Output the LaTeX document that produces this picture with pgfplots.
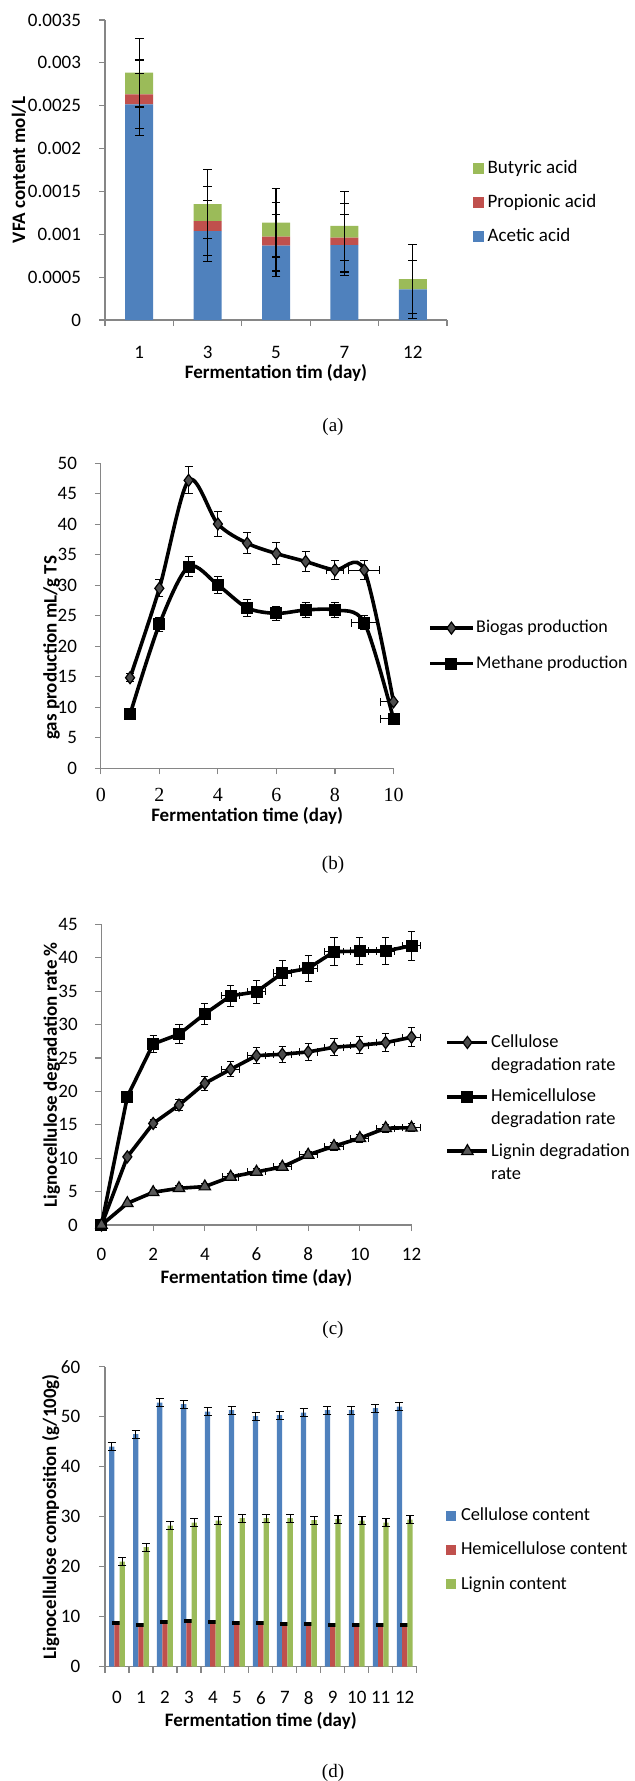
\documentclass[border=0pt]{standalone}
\usepackage{pgfplots}
\pgfplotsset{compat=1.18}
\usepackage{fontspec}
\setmainfont{Carlito}
\newfontfamily\capfont{Liberation Serif}
\definecolor{cblue}{HTML}{4F81BD}
\definecolor{cred}{HTML}{C0504D}
\definecolor{cgreen}{HTML}{9BBB59}
\definecolor{axgray}{HTML}{868686}
\newcommand{\fs}{\fontsize{9.5}{11.5}\selectfont}
\pgfplotsset{
  excel/.style={
    scale only axis,
    anchor=south west,
    axis lines*=left,
    axis line style={draw=axgray, line width=0.6pt, -},
    tick style={draw=axgray, line width=0.6pt},
    tick align=outside,
    major tick length=3pt,
    font=\fs,
    /pgf/number format/assume math mode=true,
    scaled y ticks=false,
    scaled x ticks=false,
    yticklabel style={anchor=east, inner sep=0pt},
    xticklabel style={anchor=center, inner sep=0pt},
    legend style={draw=none, fill=none, font=\fs, inner sep=0pt, outer sep=0pt, anchor=west},
    legend cell align=left,
  },
}
\begin{document}
\begin{tikzpicture}
\useasboundingbox (0,0) rectangle (317pt,-890.5pt);

% ---------------- (a) ----------------
\begin{axis}[excel,
  at={(52.5pt,-160pt)}, width=171pt, height=150pt,
  ybar stacked, bar width=14pt,
  xmin=-0.5, xmax=4.5, ymin=0, ymax=0.0035,
  xtick={-0.5,0.5,1.5,2.5,3.5,4.5}, x tick label as interval,
  xticklabels={1,3,5,7,12},
  ytick={0,0.0005,0.001,0.0015,0.002,0.0025,0.003,0.0035},
  yticklabels={0,0.0005,0.001,0.0015,0.002,0.0025,0.003,0.0035},
  xticklabel style={yshift=-13.3pt},
  yticklabel style={xshift=-8.85pt},
  every axis x label/.style={at={(axis description cs:0.5,-0.178)}, anchor=center, font=\fs\bfseries},
  every axis y label/.style={at={(axis description cs:-0.2515,0.5)}, rotate=90, anchor=center, font=\fs\bfseries},
  xlabel={Fermentation tim (day)}, ylabel={VFA content mol/L},
  legend style={at={(axis description cs:1.075,0.391)}, row sep=7.8pt, column sep=2pt,
    nodes={inner sep=0pt, text height=7pt, text depth=2.2pt}},
  reverse legend,
  legend image code/.code={\fill[#1] (0pt,-2.75pt) rectangle (5.5pt,2.75pt);},
]
\addplot[fill=cblue, draw=none] coordinates {(0,0.002517) (1,0.001038) (2,0.000867) (3,0.000875) (4,0.000358)};
\addlegendentry{Acetic acid}
\addplot[fill=cred, draw=none] coordinates {(0,0.000116) (1,0.000117) (2,0.000105) (3,0.000085) (4,0)};
\addlegendentry{Propionic acid}
\addplot[fill=cgreen, draw=none] coordinates {(0,0.000253) (1,0.000198) (2,0.000163) (3,0.000137) (4,0.00012)};
\addlegendentry{Butyric acid}
\end{axis}
\begin{axis}[at={(52.5pt,-160pt)}, anchor=south west, scale only axis, width=171pt, height=150pt,
  xmin=-0.5, xmax=4.5, ymin=0, ymax=0.0035, hide axis, clip=false]
\addplot[draw=none, mark=none, forget plot, error bars/.cd, y dir=both, y explicit,
  error mark=-,
  error bar style={draw=black, line width=0.6pt},
  error mark options={rotate=90, draw=black, mark size=2.2pt, line width=0.6pt}]
  coordinates {
  (0,0.002517) +- (0,0.00036) (1,0.001038) +- (0,0.00036) (2,0.000867) +- (0,0.00036) (3,0.000875) +- (0,0.00036) (4,0.000358) +- (0,0.00034)
  (0,0.002633) +- (0,0.0004) (1,0.001155) +- (0,0.0004) (2,0.000972) +- (0,0.0004) (3,0.00096) +- (0,0.0004)
  (0,0.002886) +- (0,0.0004) (1,0.001353) +- (0,0.0004) (2,0.001135) +- (0,0.0004) (3,0.001097) +- (0,0.0004) (4,0.000478) +- (0,0.0004)
  };
\end{axis}
\node[font=\capfont\fontsize{9.5}{11}\selectfont] at (166.5pt,-213.5pt) {(a)};

% ---------------- (b) ----------------
\begin{axis}[excel,
  at={(50.4pt,-384.15pt)}, width=146.35pt, height=152.5pt,
  xmin=0, xmax=10, ymin=0, ymax=50,
  xtick={0,2,4,6,8,10}, ytick={0,5,10,15,20,25,30,35,40,45,50},
  xticklabel style={font=\capfont\fontsize{10}{12}\selectfont, yshift=-10.5pt},
  yticklabel style={xshift=-8.75pt},
  clip=false,
  every axis x label/.style={at={(axis description cs:0.5,-0.156)}, anchor=center, font=\fs\bfseries},
  every axis y label/.style={at={(axis description cs:-0.168,0.395)}, rotate=90, anchor=center, font=\fs\bfseries},
  xlabel={Fermentation time (day)}, ylabel={gas production mL/g TS},
  legend style={at={(axis description cs:1.12,0.4016)}, row sep=8.5pt, column sep=1pt,
    font=\fontsize{9}{11}\selectfont,
    nodes={inner sep=0pt, text height=7pt, text depth=2.2pt}},
  legend image code/.code={\draw[mark repeat=2, mark phase=2, #1] plot coordinates {(0pt,0pt) (10.5pt,0pt) (21pt,0pt)};},
]
\addplot[black, line width=1.8pt, smooth, tension=0.5, mark=diamond*,
  mark options={fill=black!70, draw=black, line width=0.6pt, mark size=3pt, solid},
  error bars/.cd, x dir=both, y dir=both, x explicit, y explicit,
  error bar style={line width=0.5pt, black},
  error mark options={rotate=90, mark size=2pt, line width=0.5pt, black}]
  coordinates {
  (1,14.85) +- (0,0.7)
  (2,29.5) +- (0,1.4)
  (3,47.2) +- (0,2.2)
  (4,40.05) +- (0,2.0)
  (5,36.9) +- (0,1.7)
  (6,35.2) +- (0,1.8)
  (7,33.9) +- (0,1.7)
  (8,32.5) +- (0.3,1.6)
  (9,32.5) +- (0.53,1.5)
  (10,10.9) += (0,0) -= (0.46,0)
  };
\addlegendentry{Biogas production}
\addplot[black, line width=1.8pt, smooth, tension=0.5, mark=square*,
  mark options={fill=black, draw=black, line width=0.6pt, mark size=2.7pt, solid},
  error bars/.cd, x dir=both, y dir=both, x explicit, y explicit,
  error bar style={line width=0.5pt, black},
  error mark options={rotate=90, mark size=2pt, line width=0.5pt, black}]
  coordinates {
  (1,8.85) +- (0,0.4)
  (2,23.6) +- (0,1.2)
  (3,33.05) +- (0,1.6)
  (4,30.05) +- (0,1.4)
  (5,26.3) +- (0,1.4)
  (6,25.4) +- (0,1.2)
  (7,25.95) +- (0,1.3)
  (8,25.95) +- (0,1.3)
  (9,23.9) +- (0.44,1.2)
  (10,8.1) += (0,0) -= (0.46,0)
  };
\addlegendentry{Methane production}
\end{axis}
\node[font=\capfont\fontsize{9.5}{11}\selectfont] at (166.5pt,-432.5pt) {(b)};

% ---------------- (c) ----------------
\begin{axis}[excel,
  at={(50.75pt,-612.5pt)}, width=155pt, height=150.35pt,
  xmin=0, xmax=12, ymin=0, ymax=45,
  xtick={0,2,4,6,8,10,12}, ytick={0,5,10,15,20,25,30,35,40,45},
  xticklabel style={yshift=-11.65pt},
  yticklabel style={xshift=-8.7pt},
  clip=false,
  every axis x label/.style={at={(axis description cs:0.5,-0.177)}, anchor=center, font=\fs\bfseries},
  every axis y label/.style={at={(axis description cs:-0.16,0.5)}, rotate=90, anchor=center, font=\fs\bfseries},
  xlabel={Fermentation time (day)}, ylabel={Lignocellulose degradation rate \%},
  legend style={at={(axis description cs:1.11,0.388)}, row sep=7.8pt, column sep=1pt,
    font=\fontsize{9.2}{11.5}\selectfont,
    nodes={inner sep=0pt, align=left}},
  legend image code/.code={\draw[mark repeat=2, mark phase=2, #1] plot coordinates {(0pt,5.75pt) (10pt,5.75pt) (20pt,5.75pt)};},
]
\addplot[black, line width=1.8pt, mark=diamond*,
  mark options={fill=black!70, draw=black, line width=0.6pt, mark size=3pt, solid},
  error bars/.cd, x dir=both, y dir=both, x explicit, y explicit,
  error bar style={line width=0.5pt, black},
  error mark options={rotate=90, mark size=1.8pt, line width=0.5pt, black}]
  coordinates {
  (0,0) +- (0,0)
  (1,10.2) +- (0,0.3)
  (2,15.2) +- (0,0.6)
  (3,17.95) +- (0,0.8)
  (4,21.2) +- (0,1.0)
  (5,23.3) +- (0.35,1.1)
  (6,25.35) +- (0.35,1.2)
  (7,25.55) +- (0.35,1.2)
  (8,25.9) +- (0.35,1.3)
  (9,26.6) +- (0.35,1.3)
  (10,26.9) +- (0.35,1.3)
  (11,27.3) +- (0.35,1.4)
  (12,28.1) +- (0.35,1.4)
  };
\addlegendentry{Cellulose\\degradation rate}
\addplot[black, line width=1.8pt, mark=square*,
  mark options={fill=black, draw=black, line width=0.6pt, mark size=2.7pt, solid},
  error bars/.cd, x dir=both, y dir=both, x explicit, y explicit,
  error bar style={line width=0.5pt, black},
  error mark options={rotate=90, mark size=1.8pt, line width=0.5pt, black}]
  coordinates {
  (0,0) +- (0,0)
  (1,19.2) +- (0,0.5)
  (2,27.1) +- (0,1.3)
  (3,28.55) +- (0,1.4)
  (4,31.6) +- (0,1.6)
  (5,34.3) +- (0.35,1.6)
  (6,34.9) +- (0.35,1.7)
  (7,37.7) +- (0.35,1.9)
  (8,38.4) +- (0.35,1.9)
  (9,40.9) +- (0.35,2.1)
  (10,41.0) +- (0.35,2.05)
  (11,41.0) +- (0.35,2.0)
  (12,41.8) +- (0.35,2.15)
  };
\addlegendentry{Hemicellulose\\degradation rate}
\addplot[black, line width=1.8pt, mark=triangle*,
  mark options={fill=black!65, draw=black, line width=0.6pt, mark size=3.3pt, solid},
  error bars/.cd, x dir=both, y dir=both, x explicit, y explicit,
  error bar style={line width=0.5pt, black},
  error mark options={rotate=90, mark size=1.8pt, line width=0.5pt, black}]
  coordinates {
  (0,0) +- (0,0)
  (1,3.25) +- (0,0.3)
  (2,4.9) +- (0,0.4)
  (3,5.5) +- (0,0.4)
  (4,5.75) +- (0,0.4)
  (5,7.2) +- (0.3,0.5)
  (6,7.95) +- (0.35,0.5)
  (7,8.7) +- (0.35,0.5)
  (8,10.5) +- (0.35,0.5)
  (9,11.8) +- (0.35,0.6)
  (10,13.0) +- (0.35,0.6)
  (11,14.5) +- (0.35,0.6)
  (12,14.55) +- (0.35,0.6)
  };
\addlegendentry{Lignin degradation\\rate}
\end{axis}
\node[font=\capfont\fontsize{9.5}{11}\selectfont] at (166.5pt,-665pt) {(c)};

% ---------------- (d) ----------------
\begin{axis}[excel,
  at={(52.5pt,-833.35pt)}, width=155.85pt, height=150pt,
  ybar=0pt, bar width=2.65pt,
  xmin=-0.5, xmax=12.5, ymin=0, ymax=60,
  xtick={-0.5,0.5,1.5,2.5,3.5,4.5,5.5,6.5,7.5,8.5,9.5,10.5,11.5,12.5}, x tick label as interval,
  xticklabels={0,1,2,3,4,5,6,7,8,9,10,11,12},
  ytick={0,10,20,30,40,50,60},
  xticklabel style={yshift=-12.5pt},
  yticklabel style={xshift=-9.2pt},
  every axis x label/.style={at={(axis description cs:0.5,-0.18)}, anchor=center, font=\fs\bfseries},
  every axis y label/.style={at={(axis description cs:-0.174,0.5)}, rotate=90, anchor=center, font=\fs\bfseries},
  xlabel={Fermentation time (day)}, ylabel={Lignocellulose composition (g/100g)},
  legend style={at={(axis description cs:1.094,0.389)}, row sep=7.9pt, column sep=2.5pt,
    font=\fontsize{9.2}{11}\selectfont,
    nodes={inner sep=0pt, text height=7pt, text depth=2.2pt}},
  legend image code/.code={\fill[#1] (0pt,-2.5pt) rectangle (5pt,2.5pt);},
]
\addplot[fill=cblue, draw=none, error bars/.cd, y dir=both, y explicit, error mark=-,
  error bar style={draw=black, line width=0.6pt},
  error mark options={rotate=90, draw=black, mark size=2pt, line width=0.6pt}]
  coordinates {(0,44.0) +- (0,0.8) (1,46.5) +- (0,0.8) (2,52.8) +- (0,0.8) (3,52.5) +- (0,0.8) (4,51.0) +- (0,0.8) (5,51.3) +- (0,0.8) (6,50.1) +- (0,0.8) (7,50.3) +- (0,0.8) (8,50.8) +- (0,0.8) (9,51.3) +- (0,0.8) (10,51.3) +- (0,0.8) (11,51.7) +- (0,0.8) (12,52.0) +- (0,0.8)};
\addlegendentry{Cellulose content}
\addplot[fill=cred, draw=none, error bars/.cd, y dir=both, y explicit, error mark=-,
  error bar style={draw=black, line width=1.4pt},
  error mark options={rotate=90, draw=black, mark size=2.25pt, line width=1.4pt}]
  coordinates {(0,8.7) +- (0,0.1) (1,8.3) +- (0,0.1) (2,9.0) +- (0,0.1) (3,9.2) +- (0,0.1) (4,8.9) +- (0,0.1) (5,8.7) +- (0,0.1) (6,8.7) +- (0,0.1) (7,8.5) +- (0,0.1) (8,8.5) +- (0,0.1) (9,8.3) +- (0,0.1) (10,8.3) +- (0,0.1) (11,8.3) +- (0,0.1) (12,8.3) +- (0,0.1)};
\addlegendentry{Hemicellulose content}
\addplot[fill=cgreen, draw=none, error bars/.cd, y dir=both, y explicit, error mark=-,
  error bar style={draw=black, line width=0.6pt},
  error mark options={rotate=90, draw=black, mark size=2pt, line width=0.6pt}]
  coordinates {(0,21.0) +- (0,0.8) (1,23.9) +- (0,0.8) (2,28.2) +- (0,0.8) (3,28.8) +- (0,0.8) (4,29.2) +- (0,0.8) (5,29.7) +- (0,0.8) (6,29.7) +- (0,0.8) (7,29.7) +- (0,0.8) (8,29.3) +- (0,0.8) (9,29.5) +- (0,0.8) (10,29.2) +- (0,0.8) (11,28.8) +- (0,0.8) (12,29.4) +- (0,0.8)};
\addlegendentry{Lignin content}
\end{axis}
\node[font=\capfont\fontsize{9.5}{11}\selectfont] at (166.5pt,-886.65pt) {(d)};
\end{tikzpicture}
\end{document}
